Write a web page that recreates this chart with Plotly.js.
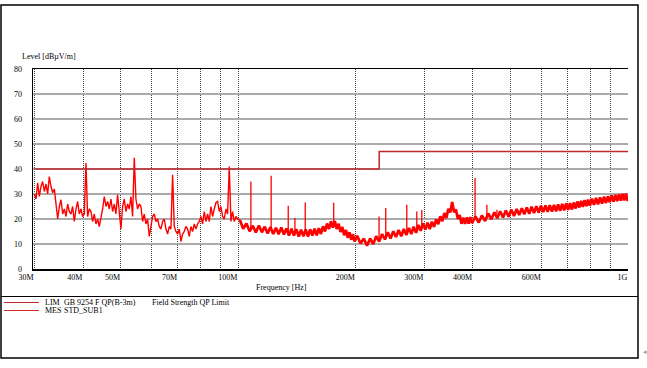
<!DOCTYPE html>
<html>
<head>
<meta charset="utf-8">
<script src="https://cdn.plot.ly/plotly-3.0.1.min.js"></script>
<style>html,body{margin:0;padding:0;background:#fff}#chart{width:647px;height:368px}</style>
</head>
<body>
<div id="chart"></div>
<script>
// ---- Data (frequency in MHz, level in dBµV/m) ----
const limFreq = [30, 230, 230, 1000];
const limLevel = [40, 40, 47, 47];

const mesFreqLow = [30.00,30.30,30.59,30.90,31.20,31.51,31.82,32.14,32.45,32.77,33.10,33.43,33.76,34.09,34.43,34.77,35.11,35.46,35.81,36.16,36.52,36.88,37.25,37.61,37.99,38.36,38.74,39.12,39.51,39.90,40.29,40.69,41.09,41.50,41.91,42.32,42.74,43.16,43.59,44.02,44.46,44.90,45.34,45.79,46.24,46.70,47.16,47.63,48.10,48.57,49.05,49.54,50.03,50.52,51.02,51.53,52.04,52.55,53.07,53.60,54.13,54.66,55.20,55.75,56.30,56.86,57.42,57.99,58.56,59.14,59.73,60.32,60.91,61.52,62.13,62.74,63.36,63.99,64.62,65.26,65.91,66.56,67.22,67.88,68.55,69.23,69.92,70.61,71.31,72.01,72.72,73.44,74.17,74.90,75.64,76.39,77.15,77.91,78.68,79.46,80.25,81.04,81.84,82.65,83.47,84.30,85.13,85.97,86.82,87.68,88.55,89.43,90.31,91.21,92.11,93.02,93.94,94.87,95.81,96.76,97.72,98.68,99.66,101];
const mesLevelLow = [30,28,34.5,29,33,35,31,34,30,37,33,30.5,32,26.5,20,25,27.7,22,24,21,26,23,22,25,19,24,27,22,24,21,22,42.4,21,24,23,19,22,18,20,17,20,24,29,25,27,24,28,23,26,22,29.7,24,16,25,28,23,26,24,29,21,44.5,28,24,26,25,19,22,18,20,13,18,21,22,19,20,17,16,19,20,16,14,17,16,37.7,17,15,14,16,11,14,15,17,16,13,17,15,18,16,18,19,21,18,23,19,22,19,25,21,24,26.5,27,23,25,21,20,24,22,41,19,23,19,21,20,19.6];

const mesFreqHigh = [101,103,105,107,109,111,113,115,117,119,121,123,125,127,129,131,133,135,137,139,141,143,145,147,149,151,153,155,157,159,161,163,165,167,169,171,173,175,177,179,181,183,185,187,189,191,193,195,197,199,
202,206,210,214,218,222,226,230,234,238,242,246,250,254,258,262,266,270,274,278,282,286,290,294,298,302,306,310,314,318,322,326,330,334,338,342,346,350,354,358,362,366,370,374,378,382,386,390,394,398,
406,414,422,430,438,446,454,462,470,478,486,494,502,510,518,526,534,542,550,558,566,574,582,590,598,606,614,622,630,638,646,654,662,670,678,686,694,702,710,718,726,734,742,750,758,766,774,782,790,798,
808,818,828,838,848,858,868,878,888,898,908,918,928,938,948,958,968,978,988,998,1000];
const mesLevelHigh = [19.6,16.1,18.2,15.1,17.3,14.6,17.4,14.7,16.9,14.2,16.8,14.0,16.5,13.9,16.6,13.8,16.2,13.4,16.1,13.4,15.9,13.0,15.7,13.1,15.8,13.0,15.8,13.4,16.1,13.5,16.3,14.0,17.1,15.0,18.2,16.0,19.1,16.6,19.2,16.0,18.1,14.8,16.8,13.5,15.6,12.5,14.7,11.7,13.9,11.0,
13.3,10.2,12.2,9.3,12.2,10.0,13.1,11.0,14.0,11.8,14.7,12.2,15.1,12.8,15.6,13.1,16.0,13.6,16.4,14.0,16.9,14.5,17.6,15.3,18.2,15.8,18.5,16.0,18.9,16.8,19.9,17.9,21.1,19.1,22.4,20.4,24.1,22.6,26.8,22.7,23.8,20.0,21.6,18.1,20.5,18.0,20.7,18.1,20.8,18.3,
21.0,18.6,21.4,19.2,22.2,19.9,22.7,20.3,23.1,20.6,23.4,20.9,23.7,21.2,24.0,21.6,24.3,21.9,24.6,22.1,24.9,22.4,25.1,22.6,25.3,22.8,25.4,22.9,25.5,23.0,25.6,23.1,25.8,23.3,26.0,23.5,26.2,23.7,26.3,23.8,26.6,24.2,27.0,24.6,27.3,24.8,27.6,25.1,27.8,25.3,
28.1,25.7,28.4,25.9,28.6,26.2,28.9,26.4,29.1,26.7,29.5,26.9,29.7,27.1,29.9,27.3,30.1,27.4,30.2,27.2,28.6];

// narrow emission spikes above the noise band
const spikeFreq = [107.8,121.5,134.4,139.8,148.6,175.8,229.8,239.1,270.7,287.2,295.8,405.2,434.5,461];
const spikePeak = [35,37.3,25.3,20.4,26.6,26.5,21,24.4,25.7,23,23.6,36.4,25.7,23.7];
const spikeBase = [16.2,15.5,14.8,14.6,14.4,18,12.3,13.2,15,16,16.6,19.7,21,21.5];

const tickVals = [30,40,50,60,70,80,90,100,200,300,400,500,600,700,800,900,1000];
const tickText = ['30M','40M','50M','','70M','','','100M','200M','300M','400M','','600M','','','','1G'];
const yTickVals = [0,10,20,30,40,50,60,70,80];

const legendRows = [
  {code: 'LIM', name: 'GB 9254 F QP(B-3m)', desc: 'Field Strength QP Limit'},
  {code: 'MES', name: 'STD_SUB1', desc: ''}
];

// ---- Styles ----
const limColor = '#c0282d';
const mesColor = '#ff0000';
const fontFam = '"Liberation Serif", "Times New Roman", serif';

const spX = [], spY = [];
spikeFreq.forEach((f, i) => { spX.push(f, f, null); spY.push(spikeBase[i], spikePeak[i], null); });

const data = [
  {x: mesFreqLow, y: mesLevelLow, type: 'scatter', mode: 'lines', name: 'MES',
   line: {color: mesColor, width: 1.4}, showlegend: false},
  {x: mesFreqHigh, y: mesLevelHigh, type: 'scatter', mode: 'lines', name: 'MES',
   line: {color: mesColor, width: 2.7}, showlegend: false},
  {x: spX, y: spY, type: 'scatter', mode: 'lines', name: 'MES', connectgaps: false,
   line: {color: mesColor, width: 1.3}, showlegend: false},
  {x: limFreq, y: limLevel, type: 'scatter', mode: 'lines', name: 'LIM',
   line: {color: limColor, width: 1.5}, showlegend: false}
];

// paper-coordinate helpers (plot area: left 33, width 595, top 69, height 200)
const px = v => (v - 33) / 595;
const py = v => (269 - v) / 200;

const shapes = [
  {type: 'rect', xref: 'paper', yref: 'paper', x0: px(1), x1: px(638), y0: py(358), y1: py(5),
   line: {color: '#000', width: 1.5}, layer: 'below'},
  {type: 'line', xref: 'paper', yref: 'paper', x0: px(1), x1: px(638), y0: py(296.5), y1: py(296.5),
   line: {color: '#000', width: 1.2}},
  {type: 'line', xref: 'paper', yref: 'paper', x0: px(4), x1: px(39), y0: py(302.5), y1: py(302.5),
   line: {color: limColor, width: 1.2}},
  {type: 'line', xref: 'paper', yref: 'paper', x0: px(4), x1: px(39), y0: py(310.5), y1: py(310.5),
   line: {color: '#d42a2a', width: 1.2}}
];

const annFont = {family: fontFam, size: 8, color: '#000'};
const annotations = [
  {text: 'Level [dBµV/m]', xref: 'paper', yref: 'paper', x: px(20), y: py(56),
   xanchor: 'left', yanchor: 'middle', showarrow: false, font: annFont},
  {text: 'Frequency [Hz]', xref: 'paper', yref: 'paper', x: px(281), y: py(287),
   xanchor: 'center', yanchor: 'middle', showarrow: false, font: annFont},
  {text: '◂', xref: 'paper', yref: 'paper', x: px(645), y: py(352),
   xanchor: 'center', yanchor: 'middle', showarrow: false, font: {family: fontFam, size: 7, color: '#999'}}
];
legendRows.forEach((r, i) => {
  const yy = py(302.5 + 8 * i);
  annotations.push({text: r.code, xref: 'paper', yref: 'paper', x: px(43), y: yy,
    xanchor: 'left', yanchor: 'middle', showarrow: false, font: annFont});
  annotations.push({text: r.name, xref: 'paper', yref: 'paper', x: px(62), y: yy,
    xanchor: 'left', yanchor: 'middle', showarrow: false, font: annFont});
  if (r.desc) annotations.push({text: r.desc, xref: 'paper', yref: 'paper', x: px(150), y: yy,
    xanchor: 'left', yanchor: 'middle', showarrow: false, font: annFont});
});

const layout = {
  width: 647, height: 368,
  margin: {l: 33, r: 19, t: 69, b: 99, pad: 0},
  paper_bgcolor: '#fff', plot_bgcolor: '#fff',
  font: {family: fontFam, size: 8, color: '#000'},
  showlegend: false,
  xaxis: {
    type: 'log', range: [Math.log10(29.76), 3],
    tickmode: 'array', tickvals: tickVals, ticktext: tickText,
    ticklabelposition: 'outside left',
    ticks: '', showgrid: true, gridcolor: '#444', gridwidth: 1, griddash: '1px,1px',
    showline: true, mirror: true, linecolor: '#000', linewidth: 1.5, zeroline: false,
    tickfont: {family: fontFam, size: 8, color: '#000'}
  },
  yaxis: {
    range: [0, 80], tickmode: 'array', tickvals: yTickVals,
    ticks: '', ticklabelstandoff: 8,
    showgrid: true, gridcolor: '#aaaaaa', gridwidth: 1.6,
    showline: true, linecolor: '#000', linewidth: 1.5, zeroline: false,
    tickfont: {family: fontFam, size: 8, color: '#000'}
  },
  shapes: shapes,
  annotations: annotations
};

Plotly.newPlot('chart', data, layout, {staticPlot: true, displayModeBar: false});
</script>
</body>
</html>
